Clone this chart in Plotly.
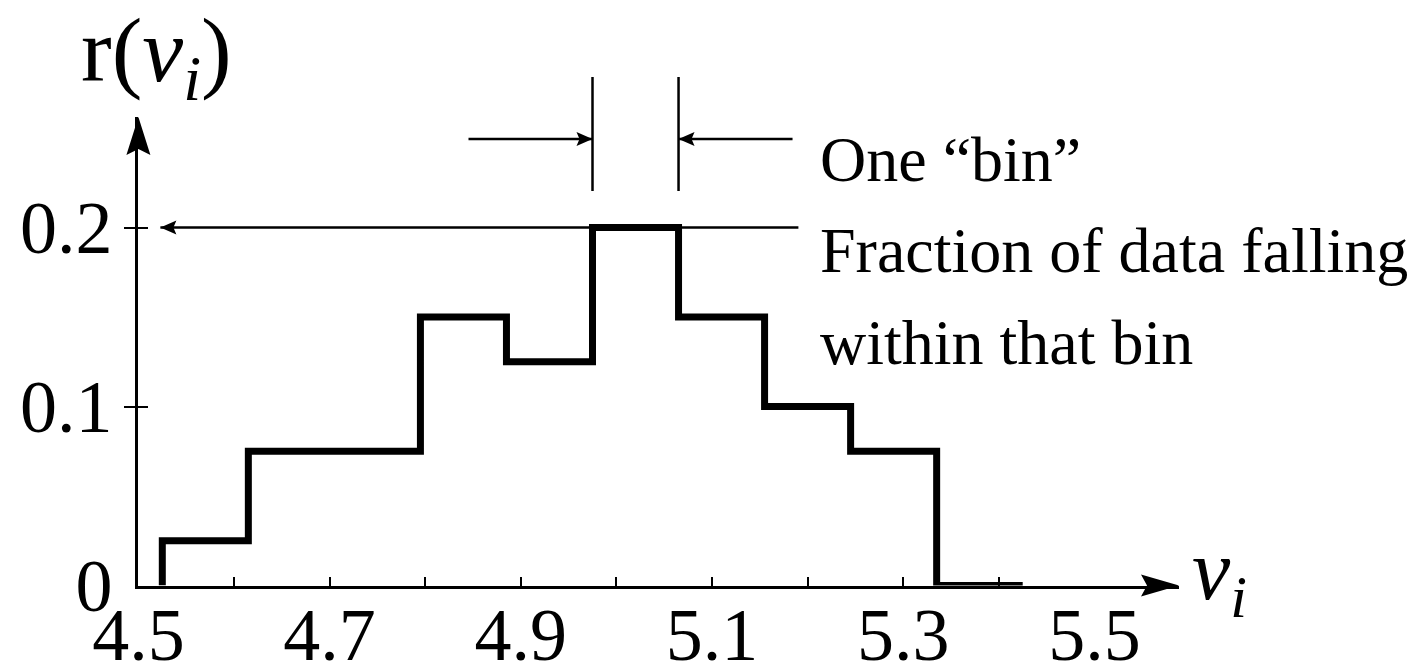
import plotly.graph_objects as go

# Relative frequency r(v_i) of measured values v_i, one value per bin
bin_edges = [4.525, 4.615, 4.705, 4.795, 4.885, 4.975, 5.065, 5.155, 5.245, 5.335, 5.425]
bin_fraction = [0.025, 0.075, 0.075, 0.15, 0.125, 0.2, 0.15, 0.1, 0.075, 0.0]

x_tick_values = [4.5, 4.7, 4.9, 5.1, 5.3, 5.5]
x_tick_labels = ["4.5", "4.7", "4.9", "5.1", "5.3", "5.5"]
x_mark_values = [4.6, 4.7, 4.8, 4.9, 5.0, 5.1, 5.2, 5.3, 5.4]
y_tick_values = [0, 0.1, 0.2]
y_tick_labels = ["0", "0.1", "0.2"]
y_mark_values = [0.1, 0.2]

peak_bin = 5  # the bin picked out by the "One bin" callout

# ---- page geometry (pixels) ----
W, H = 1420, 661
FONT = "Liberation Serif"
ORIGIN_PX = (138.4, 585.5)      # where v = 4.5 and r = 0 meet
TIP_PX = (1179, 117)            # ends of the two axis arrows
X_SCALE = 956.0                 # pixels per unit of v
Y_SCALE = 1790.0                # pixels per unit of r

x_domain = [ORIGIN_PX[0] / W, TIP_PX[0] / W]
y_domain = [(H - ORIGIN_PX[1]) / H, (H - TIP_PX[1]) / H]
x_range = [4.5, 4.5 + (TIP_PX[0] - ORIGIN_PX[0]) / X_SCALE]
y_range = [0.0, (ORIGIN_PX[1] - TIP_PX[1]) / Y_SCALE]


def paper_x(px):
    return px / W


def paper_y(py):
    return (H - py) / H


# step outline of the histogram
step_x = [bin_edges[0]] + bin_edges
step_y = [0.0] + bin_fraction + [bin_fraction[-1]]

fig = go.Figure()
fig.add_trace(go.Scatter(
    x=step_x, y=step_y, mode="lines",
    line=dict(shape="hv", width=7, color="black"),
    cliponaxis=False, hoverinfo="skip", showlegend=False,
))
# empty traces so the overlaid tick-mark axes are drawn
for xa, ya in (("x2", "y"), ("x", "y2"), ("x", "y3")):
    fig.add_trace(go.Scatter(x=[None], y=[None], xaxis=xa, yaxis=ya,
                             mode="lines", hoverinfo="skip", showlegend=False))

tick_font = dict(family=FONT, size=74, color="black")
plain = dict(showgrid=False, zeroline=False, automargin=False)

fig.update_layout(
    width=W, height=H,
    margin=dict(l=0, r=0, t=0, b=0, autoexpand=False),
    paper_bgcolor="white", plot_bgcolor="white",
    showlegend=False,
    xaxis=dict(domain=x_domain, range=x_range, anchor="y", showline=True,
               linewidth=3, linecolor="black", tickmode="array",
               tickvals=x_tick_values, ticktext=x_tick_labels, ticks="",
               tickfont=tick_font, ticklabelstandoff=-17, **plain),
    xaxis2=dict(overlaying="x", matches="x", anchor="y", tickmode="array",
                tickvals=x_mark_values, ticks="inside", ticklen=9, tickwidth=2,
                tickcolor="black", showticklabels=False, showline=False, **plain),
    yaxis=dict(domain=y_domain, range=y_range, anchor="x", showline=True,
               linewidth=3, linecolor="black", tickmode="array",
               tickvals=y_tick_values, ticktext=y_tick_labels, ticks="",
               tickfont=tick_font, ticklabelstandoff=8, **plain),
    yaxis2=dict(overlaying="y", matches="y", anchor="x", tickmode="array",
                tickvals=y_mark_values, ticks="outside", ticklen=13, tickwidth=2,
                tickcolor="black", showticklabels=False, showline=False, **plain),
    yaxis3=dict(overlaying="y", matches="y", anchor="x", tickmode="array",
                tickvals=y_mark_values, ticks="inside", ticklen=10, tickwidth=2,
                tickcolor="black", showticklabels=False, showline=False, **plain),
)

# arrowheads at the ends of both axes
fig.add_shape(type="path", xref="paper", yref="paper",
              xsizemode="pixel", ysizemode="pixel",
              xanchor=x_domain[1], yanchor=y_domain[0],
              path="M0,0 L-38,11 L-32,0 L-38,-11 Z",
              fillcolor="black", line=dict(width=0))
fig.add_shape(type="path", xref="paper", yref="paper",
              xsizemode="pixel", ysizemode="pixel",
              xanchor=x_domain[0], yanchor=y_domain[1],
              path="M0,0 L-12,-38 L0,-32 L12,-38 Z",
              fillcolor="black", line=dict(width=0))


def pointer(tip_x, tail_x, y, yref):
    """Thin horizontal arrow from tail_x to tip_x (data x) at height y."""
    fig.add_shape(type="line", xref="x", yref=yref, x0=tail_x, x1=tip_x,
                  y0=y, y1=y, line=dict(color="black", width=2.5))
    d = 1 if tip_x > tail_x else -1
    fig.add_shape(type="path", xref="x", yref=yref,
                  xsizemode="pixel", ysizemode="pixel",
                  xanchor=tip_x, yanchor=y,
                  path=f"M0,0 L{-16 * d},7 L{-13 * d},0 L{-16 * d},-7 Z",
                  fillcolor="black", line=dict(width=0))


# axis names
fig.add_annotation(text="r(<i>v</i><sub><i>i</i></sub>)", xref="paper", yref="paper",
                   x=paper_x(156), y=paper_y(56), xanchor="center", yanchor="middle",
                   showarrow=False, font=dict(family=FONT, size=92, color="black"))
fig.add_annotation(text="<i>v</i><sub><i>i</i></sub>", xref="paper", yref="paper",
                   x=paper_x(1190), y=paper_y(576), xanchor="left", yanchor="middle",
                   showarrow=False, font=dict(family=FONT, size=86, color="black"))

# "One bin" callout: edge markers and two inward arrows
left_edge, right_edge = bin_edges[peak_bin], bin_edges[peak_bin + 1]
for edge in (left_edge, right_edge):
    fig.add_shape(type="line", xref="x", yref="paper", x0=edge, x1=edge,
                  y0=paper_y(191), y1=paper_y(77),
                  line=dict(color="black", width=2.5))
pointer(left_edge, left_edge - 124 / X_SCALE, paper_y(139), "paper")
pointer(right_edge, right_edge + 114 / X_SCALE, paper_y(139), "paper")

# arrow from the peak height across to the r axis
pointer(4.5 + 22 / X_SCALE, 4.5 + 660 / X_SCALE, bin_fraction[peak_bin], "y")

text_font = dict(family=FONT, size=64, color="black")
for line, baseline in (("One \u201cbin\u201d", 181),
                       ("Fraction of data falling", 272),
                       ("within that bin", 364)):
    fig.add_annotation(text=line, xref="paper", yref="paper",
                       x=paper_x(818), y=paper_y(baseline - 0.3375 * 64),
                       xanchor="left", yanchor="middle", showarrow=False,
                       font=text_font)

fig.write_html("out.html")
